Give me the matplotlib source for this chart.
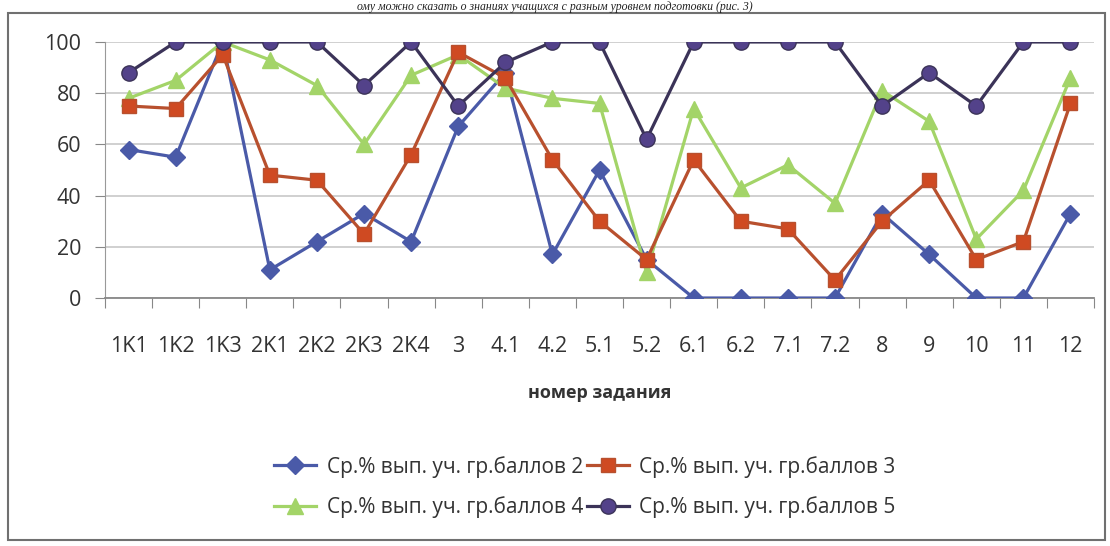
import matplotlib.pyplot as plt
from matplotlib.patches import Rectangle

tasks = ['1K1', '1K2', '1K3', '2K1', '2K2', '2K3', '2K4', '3', '4.1', '4.2', '5.1',
         '5.2', '6.1', '6.2', '7.1', '7.2', '8', '9', '10', '11', '12']

score2 = [58, 55, 100, 11, 22, 33, 22, 67, 88, 17, 50, 15, 0, 0, 0, 0, 33, 17, 0, 0, 33]
score3 = [75, 74, 95, 48, 46, 25, 56, 96, 86, 54, 30, 15, 54, 30, 27, 7, 30, 46, 15, 22, 76]
score4 = [78, 85, 100, 93, 83, 60, 87, 95, 82, 78, 76, 10, 74, 43, 52, 37, 81, 69, 23, 42, 86]
score5 = [88, 100, 100, 100, 100, 83, 100, 75, 92, 100, 100, 62, 100, 100, 100, 100, 75, 88, 75, 100, 100]

labels = ['Ср.% вып. уч. гр.баллов 2', 'Ср.% вып. уч. гр.баллов 3',
          'Ср.% вып. уч. гр.баллов 4', 'Ср.% вып. уч. гр.баллов 5']

plt.rcParams['font.family'] = ['Open Sans', 'DejaVu Sans']

fig = plt.figure(figsize=(11.1, 5.46), dpi=100)
fig.patches.append(Rectangle((8 / 1110, 6 / 546), 1097 / 1110, 527 / 546,
                             transform=fig.transFigure, fill=False,
                             edgecolor='#707070', linewidth=1.5))
fig.text(0.5, 0.999, 'ому можно сказать о знаниях учащихся с разным уровнем подготовки (рис. 3)',
         ha='center', va='top', fontsize=8.5, style='italic',
         family=['Liberation Serif', 'DejaVu Serif'], color='#222222')

ax = fig.add_axes([0.0946, 0.4542, 0.891, 0.4689])
x = list(range(len(tasks)))

l2, = ax.plot(x, score2, color='#4a5aa8', marker='D', markersize=9, linewidth=2.3,
              label=labels[0], zorder=3)
l3, = ax.plot(x, score3, color='#b8502e', marker='s', markersize=10, linewidth=2.3,
              markerfacecolor='#cf4a22', markeredgecolor='#b8502e', label=labels[1], zorder=4)
l4, = ax.plot(x, score4, color='#a3d468', marker='^', markersize=11, linewidth=2.3,
              label=labels[2], zorder=3)
l5, = ax.plot(x, score5, color='#3b3358', marker='o', markersize=11, linewidth=2.3,
              markerfacecolor='#53428a', markeredgecolor='#3b3358', label=labels[3], zorder=5)

ax.set_xlim(-0.5, len(tasks) - 0.5)
ax.set_ylim(0, 100)
ax.set_yticks([0, 20, 40, 60, 80, 100])
ax.set_xticks([i - 0.5 for i in range(len(tasks) + 1)], minor=False)
ax.set_xticklabels([])
ax.set_xticks(x, minor=True)
ax.set_xticklabels(tasks, minor=True)
ax.tick_params(axis='x', which='minor', length=0, pad=27, labelsize=15.5, colors='#333333')
ax.tick_params(axis='x', which='major', length=7, direction='out', color='#888888')
ax.tick_params(axis='y', length=7, direction='out', pad=10, labelsize=15.5,
               color='#888888', labelcolor='#333333')
ax.yaxis.grid(True, color='#c8c8c8', linewidth=1.2)
ax.set_axisbelow(True)
for side in ['top', 'right']:
    ax.spines[side].set_visible(False)
ax.spines['left'].set_color('#999999')
ax.spines['bottom'].set_color('#888888')
ax.spines['bottom'].set_linewidth(1.3)

ax.set_xlabel('номер задания', fontsize=13, fontweight='bold', labelpad=20, color='#333333')

fig.legend([l2, l4, l3, l5], [labels[0], labels[2], labels[1], labels[3]],
           ncol=2, loc='center', bbox_to_anchor=(0.527, 0.108), frameon=False,
           fontsize=15, columnspacing=0.2, handlelength=2.0, handletextpad=0.5,
           labelspacing=0.9, labelcolor='#333333')

fig.savefig('out.png', dpi=100)
